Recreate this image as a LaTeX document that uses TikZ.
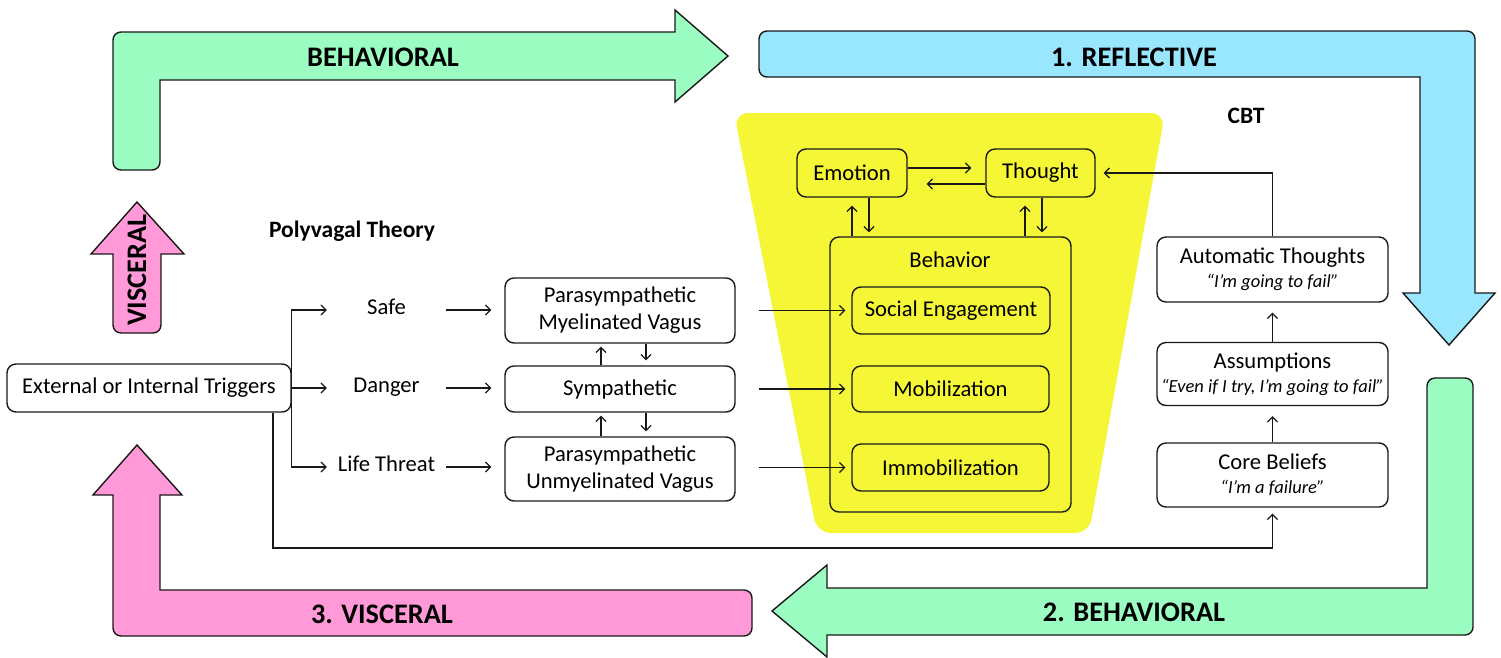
\documentclass[tikz,border=0pt]{standalone}
\usepackage{fontspec}
\setmainfont{Carlito}
\usetikzlibrary{arrows.meta}
\definecolor{cgreen}{RGB}{155,253,194}
\definecolor{cblue}{RGB}{153,230,255}
\definecolor{cpink}{RGB}{255,153,216}
\definecolor{cyellow}{RGB}{245,247,54}
\definecolor{ink}{RGB}{25,25,25}
\newcommand\regfont{\fontsize{22.6}{27}\selectfont}
\newcommand\itfont{\fontsize{18.5}{21}\selectfont\itshape}
\newcommand\bigbold{\fontsize{28.3}{32}\selectfont\bfseries}
\newcommand\midbold{\fontsize{23.5}{27}\selectfont\bfseries}
\begin{document}
\begin{tikzpicture}[x=1pt,y=-1pt,
  bigarrow/.style={draw=ink, line width=1.4pt},
  box/.style={draw=ink, rounded corners=9pt, line width=1.4pt, align=center, inner sep=0pt, font=\regfont},
  lbl/.style={inner sep=0pt, font=\regfont, minimum width=119pt, text height=12pt, text depth=4pt},
  arr/.style={draw=ink, line width=1.2pt, -{Straight Barb[length=5pt,width=10pt]}},
  plain/.style={draw=ink, line width=1.2pt}]
\useasboundingbox (0,0) rectangle (1501,657);

% yellow trapezoid
\fill[cyellow, rounded corners=14pt] (734,113) -- (1165,113) -- (1089,533) -- (817,533) -- cycle;

% big arrows
\draw[bigarrow, fill=cgreen] [rounded corners=8pt] (136,170) -- (113,170) -- (113,32) -- (400,32) [sharp corners] -- (675,32) -- (675,10) -- (728,56) -- (675,102) -- (675,80) -- (160,80) -- (160,120) [rounded corners=8pt] -- (160,170) -- cycle;
\draw[bigarrow, fill=cblue] [rounded corners=8pt] (759,54) -- (759,31) -- (1475,31) -- (1475,150) [sharp corners] -- (1475,293) -- (1495,293) -- (1449,345) -- (1403,293) -- (1420,293) -- (1420,77) -- (1000,77) [rounded corners=8pt] -- (759,77) -- cycle;
\draw[bigarrow, fill=cgreen] [rounded corners=8pt] (1450,378) -- (1473,378) -- (1473,635) -- (1100,635) [sharp corners] -- (827,635) -- (827,657) -- (772,611) -- (827,565) -- (827,588) -- (1427,588) -- (1427,500) [rounded corners=8pt] -- (1427,378) -- cycle;
\draw[bigarrow, fill=cpink] [rounded corners=8pt] (752,613) -- (752,636) -- (113,636) -- (113,560) [sharp corners] -- (113,495) -- (93,495) -- (137,445) -- (182,495) -- (160,495) -- (160,590) -- (400,590) [rounded corners=8pt] -- (752,590) -- cycle;
\draw[bigarrow, fill=cpink] [rounded corners=8pt] (137,333) -- (113,333) -- (113,290) [sharp corners] -- (113,254) -- (91,254) -- (137,202) -- (184,254) -- (161,254) -- (161,290) [rounded corners=8pt] -- (161,333) -- cycle;

\node[font=\bigbold] (tBeh) at (383,57) {BEHAVIORAL};
\node[font=\bigbold] (tRef) at (1134,57) {1. REFLECTIVE};
\node[font=\bigbold] (tBeh2) at (1134,612) {2. BEHAVIORAL};
\node[font=\bigbold] (tVis3) at (382,614) {3. VISCERAL};
\node[font=\bigbold, rotate=90] (tVis) at (137,270) {VISCERAL};

\node[font=\midbold] (poly) at (352,231) {Polyvagal Theory};
\node[font=\midbold] (cbt) at (1246,116) {CBT};

% left side
\node[box, minimum width=284pt, minimum height=48pt] (trig) at (149,388) {External or Internal Triggers};
\node[lbl] (safe) at (386.5,310) {Safe};
\node[lbl] (danger) at (386.5,388) {Danger};
\node[lbl] (life) at (386.5,467) {Life Threat};

\node[box, minimum width=230pt, minimum height=65pt] (pmv) at (620,310.5) {Parasympathetic\\Myelinated Vagus};
\node[box, minimum width=230pt, minimum height=46pt] (sym) at (620,389) {Sympathetic};
\node[box, minimum width=230pt, minimum height=64pt] (puv) at (620,469) {Parasympathetic\\Unmyelinated Vagus};

% yellow area
\node[box, minimum width=110pt, minimum height=48pt] (emo) at (852,173) {Emotion};
\node[box, minimum width=109pt, minimum height=48pt] (tho) at (1040.5,173) {Thought};
\node[box, minimum width=241pt, minimum height=275pt] (beh) at (950.5,374.5) {};
\node[font=\regfont] (behl) at (950,260) {Behavior};
\node[box, minimum width=198pt, minimum height=47pt] (soc) at (951,310.5) {Social Engagement};
\node[box, minimum width=197pt, minimum height=46pt] (mob) at (950.5,389) {Mobilization};
\node[box, minimum width=197pt, minimum height=47pt] (imm) at (950.5,467.5) {Immobilization};

% CBT boxes
\node[box, minimum width=231pt, minimum height=65pt] (auto) at (1272.5,269.5) {Automatic Thoughts\\[-3pt]{\itfont “I’m going to fail”}};
\node[box, minimum width=231pt, minimum height=63pt] (assum) at (1272.5,374) {Assumptions\\[-3pt]{\itfont “Even if I try, I’m going to fail”}};
\node[box, minimum width=231pt, minimum height=64pt] (core) at (1272.5,475) {Core Beliefs\\[-3pt]{\itfont “I’m a failure”}};

% connectors left
\draw[arr] (trig.east) |- (safe.west);
\draw[arr] (trig.east) -- (danger.west);
\draw[arr] (trig.east) |- (life.west);
\draw[arr, shorten >=13pt] (safe.east) -- (safe.east -| pmv.west);
\draw[arr, shorten >=13pt] (danger.east) -- (danger.east -| sym.west);
\draw[arr, shorten >=13pt] (life.east) -- (life.east -| puv.west);

\draw[arr, shorten >=3pt] ([xshift=-19pt]sym.north) -- ([xshift=-19pt]pmv.south);
\draw[arr, shorten >=5pt] ([xshift=26pt]pmv.south) -- ([xshift=26pt]sym.north);
\draw[arr, shorten >=3pt] ([xshift=-19pt]puv.north) -- ([xshift=-19pt]sym.south);
\draw[arr, shorten >=5pt] ([xshift=26pt]sym.south) -- ([xshift=26pt]puv.north);

\draw[arr, shorten <=23pt, shorten >=6pt] (pmv.east |- soc.west) -- (soc.west);
\draw[arr, shorten <=23pt, shorten >=6pt] (sym.east |- mob.west) -- (mob.west);
\draw[arr, shorten <=23pt, shorten >=6pt] (puv.east |- imm.west) -- (imm.west);

% yellow connectors
\draw[arr, shorten >=14pt] ([yshift=5pt]emo.east) -- ([yshift=5pt]emo.east -| tho.west);
\draw[arr, shorten >=19pt] ([yshift=-11pt]tho.west) -- ([yshift=-11pt]tho.west -| emo.east);
\draw[arr, shorten >=8pt] (emo.south |- beh.north) -- (emo.south);
\draw[arr, shorten >=4pt] ([xshift=17pt]emo.south) -- ([xshift=17pt]emo.south |- beh.north);
\draw[arr, shorten >=8pt] ([xshift=-15.5pt]tho.south |- beh.north) -- ([xshift=-15.5pt]tho.south);
\draw[arr, shorten >=4pt] ([xshift=1.5pt]tho.south) -- ([xshift=1.5pt]tho.south |- beh.north);

% CBT connectors
\draw[arr, shorten >=10pt] (core.north) -- (assum.south);
\draw[arr, shorten >=10pt] (assum.north) -- (auto.south);
\draw[arr, shorten >=8pt] (auto.north) |- (tho.east);

% feedback line
\coordinate (fbcorner) at (273,548);
\draw[arr, shorten >=6pt] (trig.south -| fbcorner) -- (fbcorner) -| (core.south);
\end{tikzpicture}
\end{document}
